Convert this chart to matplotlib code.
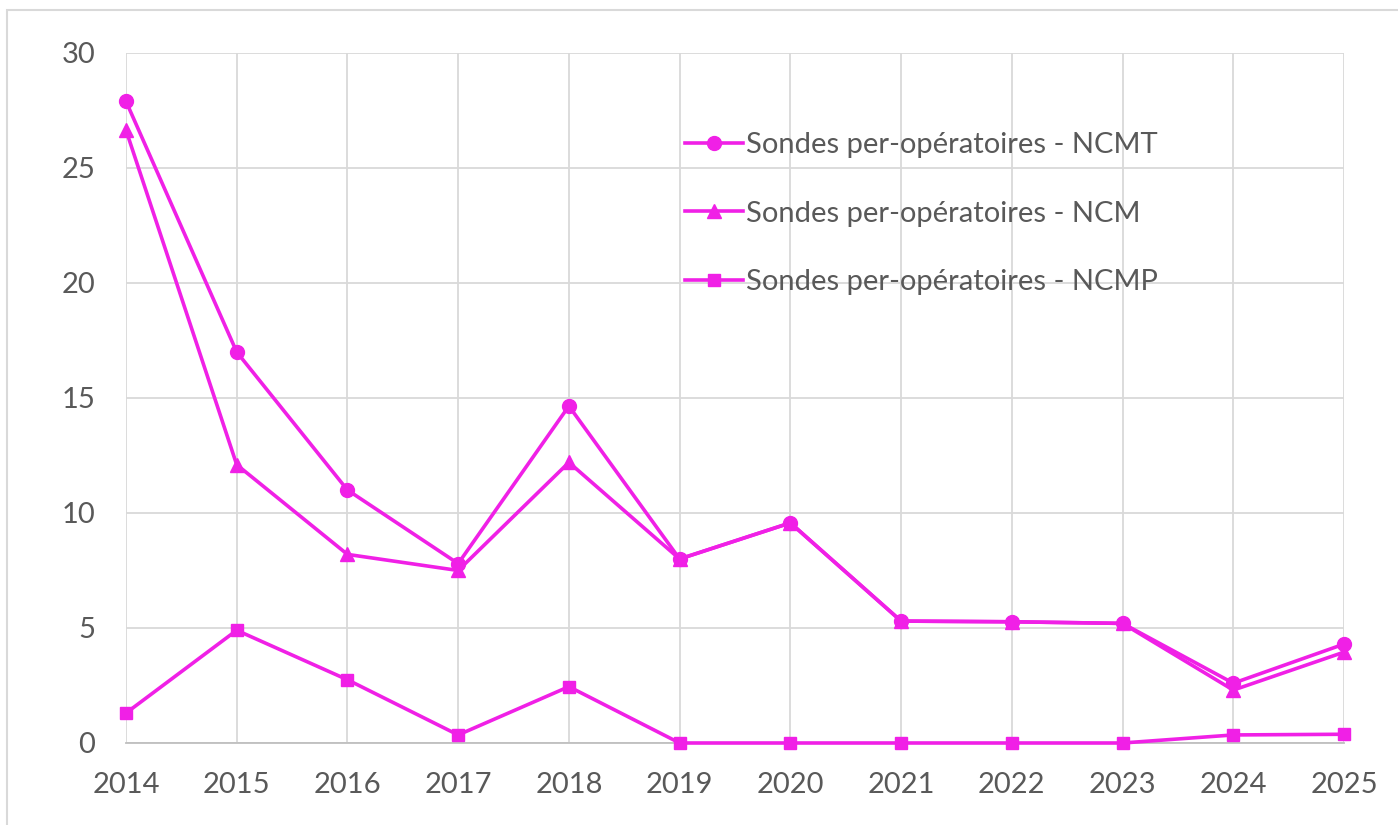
import matplotlib
matplotlib.use('Agg')
import matplotlib.pyplot as plt
import matplotlib.patches as mpatches

plt.rcParams['font.family'] = ['Lato', 'DejaVu Sans']

years = [2014, 2015, 2016, 2017, 2018, 2019, 2020, 2021, 2022, 2023, 2024, 2025]
ncmt = [27.9, 17.0, 11.0, 7.8, 14.65, 8.0, 9.57, 5.3, 5.27, 5.2, 2.6, 4.3]
ncm = [26.65, 12.1, 8.2, 7.5, 12.2, 8.0, 9.57, 5.3, 5.27, 5.2, 2.3, 3.95]
ncmp = [1.3, 4.9, 2.75, 0.35, 2.45, 0.0, 0.0, 0.0, 0.0, 0.0, 0.35, 0.38]
labels = ['Sondes per-opératoires - NCMT',
          'Sondes per-opératoires - NCM',
          'Sondes per-opératoires - NCMP']

COLOR = '#F020E6'
TXT = '#595959'
GRID = '#D9D9D9'

fig = plt.figure(figsize=(13.98, 8.25), dpi=100)
ax = fig.add_axes([0.0901, 0.0994, 0.8713, 0.8364])

# chart border like the Excel frame
fig.patches.append(mpatches.Rectangle((0.005, -0.1), 1.2, 1.088, transform=fig.transFigure,
                                      fill=False, edgecolor=GRID, linewidth=1.5))

kw = dict(color=COLOR, linewidth=2.6, clip_on=False, zorder=3)
ax.plot(years, ncmt, marker='o', markersize=10, label=labels[0], **kw)
ax.plot(years, ncm, marker='^', markersize=10, label=labels[1], **kw)
ax.plot(years, ncmp, marker='s', markersize=9, label=labels[2], **kw)

ax.set_xlim(2014, 2025)
ax.set_ylim(0, 30)
ax.set_xticks(years)
ax.set_yticks(range(0, 31, 5))
ax.grid(True, color=GRID, linewidth=1.3)
ax.set_axisbelow(True)
for s in ['top', 'right', 'left']:
    ax.spines[s].set_visible(False)
ax.spines['bottom'].set_color('#BFBFBF')
ax.spines['bottom'].set_linewidth(1.3)
ax.tick_params(length=0, labelsize=21, colors=TXT)
ax.tick_params(axis='x', pad=21)
ax.tick_params(axis='y', pad=22)

ax.legend(loc='upper left', bbox_to_anchor=(0.459, 0.885), frameon=False,
          fontsize=21, labelcolor=TXT, handlelength=2.0, handletextpad=0.1,
          labelspacing=1.45, borderaxespad=0, borderpad=0)

fig.savefig('out.png', dpi=100, facecolor='white')
